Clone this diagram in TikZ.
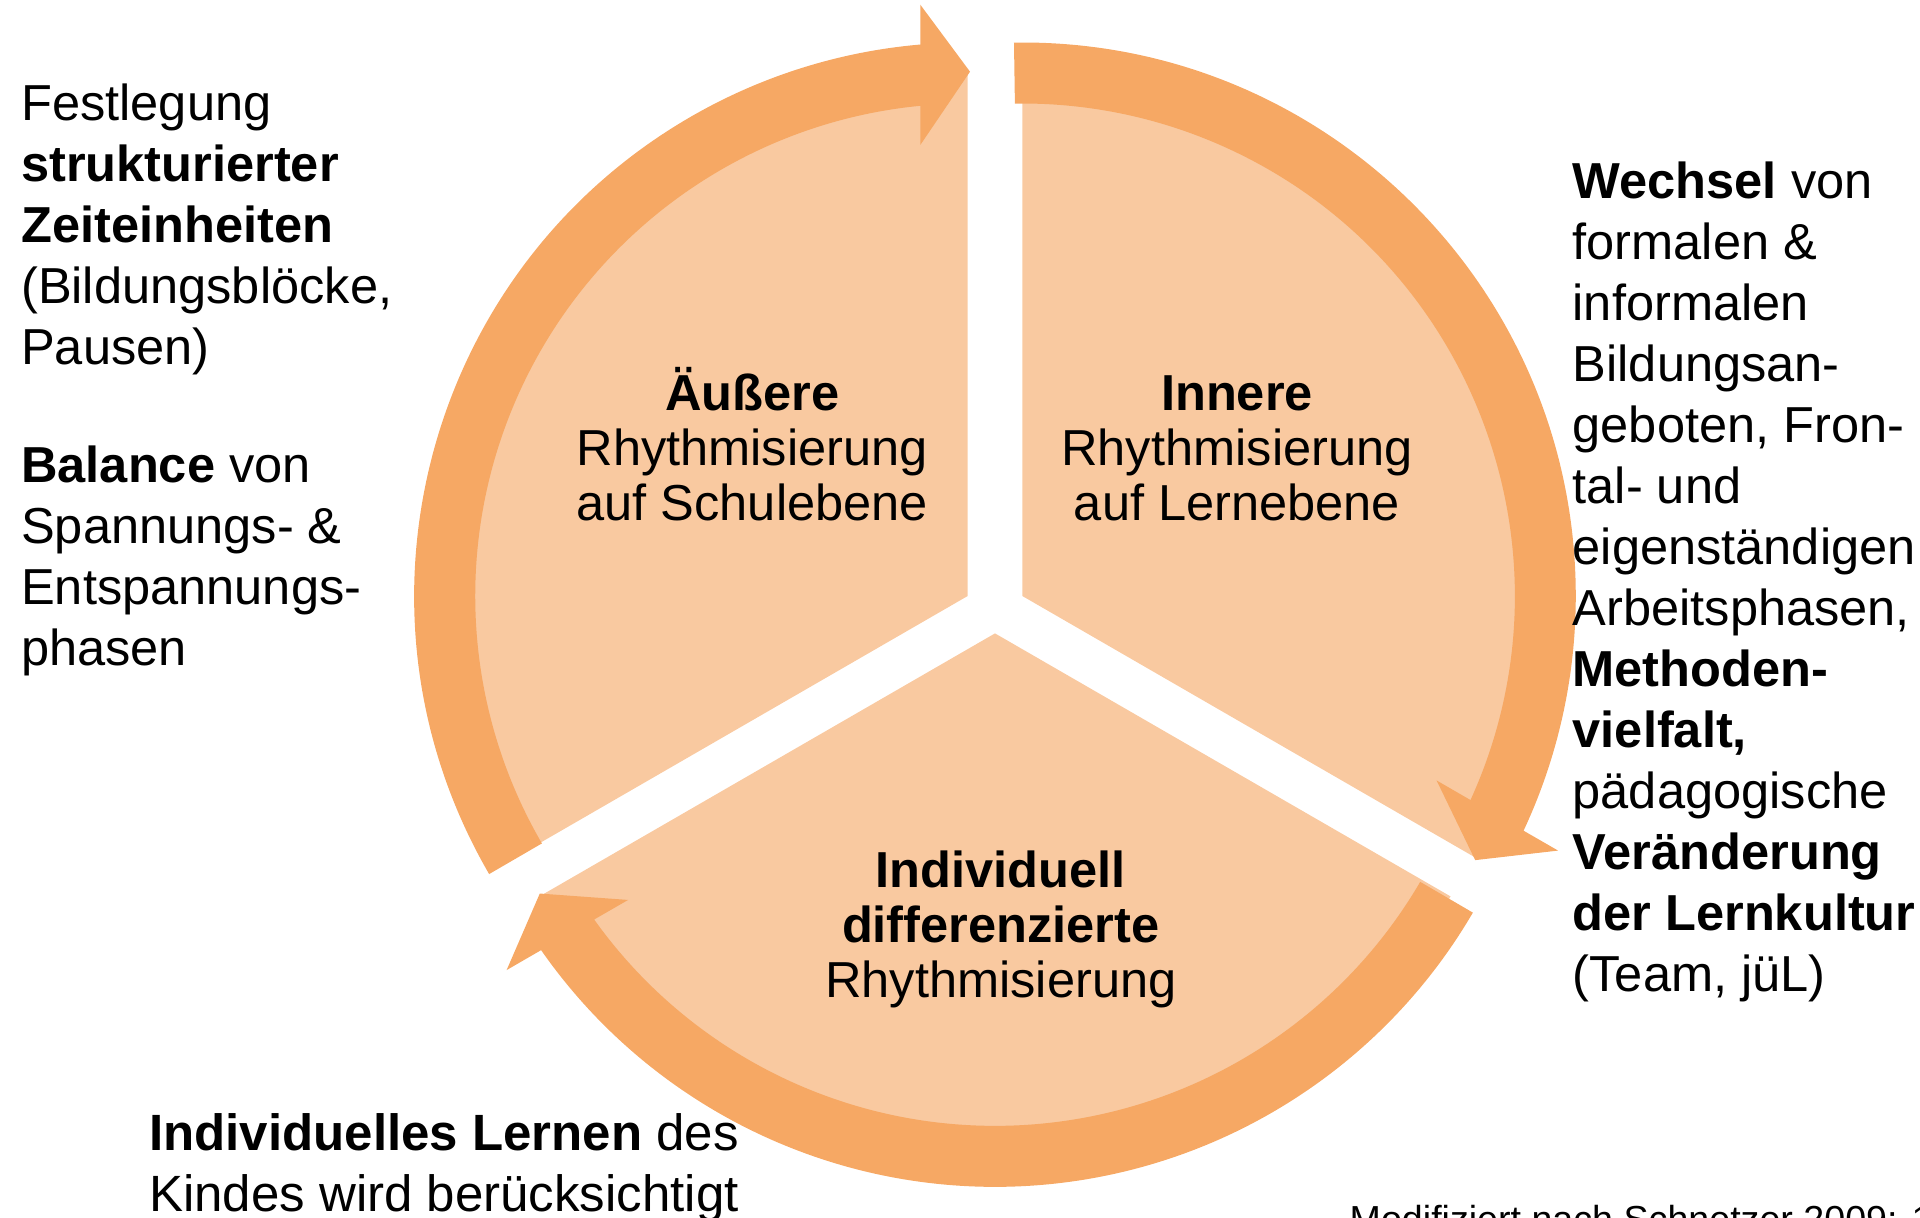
\documentclass[tikz,border=0pt]{standalone}
\usepackage{fontspec}
\setmainfont{Liberation Sans}
\definecolor{bandcol}{HTML}{F6A864}
\definecolor{sectcol}{HTML}{F9C9A0}
\newcommand{\piecefill}{\fill[sectcol] (0,0) -- (90:526) arc[start angle=90,end angle=210,radius=526] -- cycle;}
\newcommand{\piecearrow}[1]{\fill[bandcol] (#1:553.5) arc[start angle=#1,end angle=94.91,radius=553.5] -- (-47.4,591.3) -- (2.3,524.3) -- (-47.4,451) -- (95.52:492.5) arc[start angle=95.52,end angle=#1,radius=492.5] -- cycle;}
\tikzset{
  sidetext/.style={inner sep=0pt, align=left, font=\fontsize{14.38}{17.33}\selectfont},
  bottext/.style={inner sep=0pt, align=left, font=\fontsize{14.5}{17.4}\selectfont},
  midtext/.style={inner sep=0pt, align=center, font=\fontsize{14.38}{15.68}\selectfont},
  srctext/.style={inner sep=0pt, font=\fontsize{10.7}{12.8}\selectfont}
}
\begin{document}
\begin{tikzpicture}[x=0.01cm,y=0.01cm]
\useasboundingbox (0,0) rectangle (1920,1218);
\clip (0,0) rectangle (1920,1218);
\coordinate (cL) at (967.7,622);
\coordinate (cR) at (1022.3,622);
\coordinate (cB) at (995,584.6);
% light sectors
\begin{scope}[shift={(cL)}] \piecefill \end{scope}
\begin{scope}[shift={(cR)},rotate=-120] \piecefill \end{scope}
\begin{scope}[shift={(cB)},rotate=120] \piecefill \end{scope}
% arrow bands
\begin{scope}[shift={(cL)}] \piecearrow{210.16} \end{scope}
\begin{scope}[shift={(cR)},rotate=-120] \piecearrow{210.86} \end{scope}
\begin{scope}[shift={(cB)},rotate=120] \piecearrow{209.7} \end{scope}
% texts in the sectors (anchored at the baseline of the last line)
\node[midtext, anchor=base] (tout) at (752.2,697.5) {\textbf{Äußere}\\Rhythmisierung\\auf Schulebene};
\node[midtext, anchor=base] (tinn) at (1237,697.5) {\textbf{Innere}\\Rhythmisierung\\auf Lernebene};
\node[midtext, anchor=base] (tind) at (1000.8,220) {\textbf{Individuell}\\\textbf{differenzierte}\\Rhythmisierung};
% side texts
\node[sidetext, anchor=base west] (tleft) at (20.5,552.7) {Festlegung\\\textbf{strukturierter}\\\textbf{Zeiteinheiten}\\(Bildungsblöcke,\\Pausen)\\[16.3pt]\textbf{Balance} von\\Spannungs- \&\\Entspannungs-\\phasen};
\node[sidetext, anchor=base west] (tright) at (1572,226.8) {\textbf{Wechsel} von\\formalen \&\\informalen\\Bildungsan-\\geboten, Fron-\\tal- und\\eigenständigen\\Arbeitsphasen,\\\textbf{Methoden-}\\\textbf{vielfalt,}\\pädagogische\\\textbf{Veränderung}\\\textbf{der Lernkultur}\\(Team, jüL)};
\node[bottext, anchor=base west] (tbot) at (148.5,6.3) {\textbf{Individuelles Lernen} des\\Kindes wird berücksichtigt};
\node[srctext, anchor=base west] (tsrc) at (1349,-15) {Modifiziert nach Schnetzer 2009: 1};
\end{tikzpicture}
\end{document}
